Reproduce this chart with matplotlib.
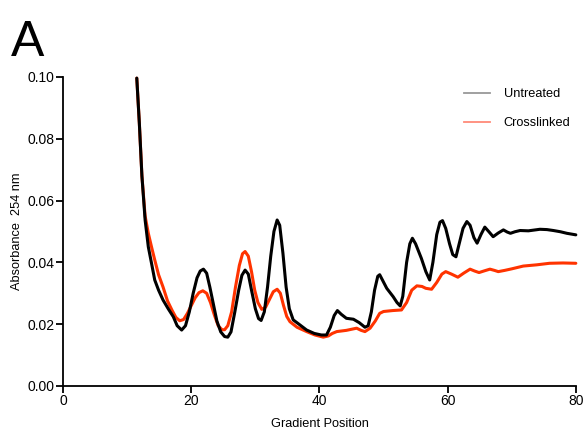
import numpy as np
import matplotlib.pyplot as plt

plt.rcParams['font.family'] = ['Liberation Sans', 'DejaVu Sans']

# values (gradient position, absorbance 254 nm)
untreated_x = [11.5, 11.9, 12.3, 12.8, 13.3, 13.8, 14.3, 14.9, 15.6, 16.4, 17.2, 17.8, 18.5, 19.1,
               19.7, 20.3, 20.9, 21.4, 21.9, 22.4, 22.9, 23.4, 24.0, 24.6, 25.2, 25.7, 26.2, 26.8,
               27.4, 27.9, 28.4, 28.9, 29.4, 30.0, 30.5, 30.9, 31.4, 31.9, 32.4, 32.9, 33.4, 33.8,
               34.3, 34.8, 35.3, 35.9, 36.8, 38.0, 39.2, 40.3, 41.1, 41.7, 42.3, 42.8, 43.4, 44.2,
               45.3, 46.2, 47.1, 47.6, 48.1, 48.6, 49.1, 49.4, 49.9, 50.5, 51.5, 52.1, 52.6, 53.0,
               53.6, 54.1, 54.5, 55.0, 55.9, 56.6, 57.2, 57.7, 58.3, 58.8, 59.2, 59.7, 60.3, 60.8,
               61.3, 61.8, 62.4, 63.0, 63.5, 64.1, 64.6, 65.2, 65.8, 66.4, 67.1, 67.9, 68.7, 69.3,
               69.8, 70.5, 71.3, 72.6, 74.4, 75.5, 76.5, 77.6, 78.6, 80.0]
untreated_y = [0.0996, 0.085, 0.068, 0.0537, 0.045, 0.0397, 0.0343, 0.031, 0.0278, 0.025, 0.0224,
               0.0195, 0.0181, 0.0195, 0.024, 0.030, 0.035, 0.0372, 0.0378, 0.0365, 0.032, 0.027,
               0.021, 0.0175, 0.016, 0.0158, 0.0175, 0.024, 0.031, 0.0358, 0.0375, 0.0362, 0.031,
               0.025, 0.0218, 0.0212, 0.024, 0.032, 0.042, 0.050, 0.0537, 0.052, 0.043, 0.032,
               0.025, 0.0214, 0.020, 0.0181, 0.017, 0.0165, 0.0165, 0.019, 0.0228, 0.0244, 0.0232,
               0.0219, 0.0216, 0.0205, 0.019, 0.0195, 0.024, 0.031, 0.0355, 0.036, 0.034, 0.0316,
               0.0289, 0.027, 0.0259, 0.029, 0.040, 0.046, 0.0478, 0.046, 0.0413, 0.037, 0.0343,
               0.040, 0.049, 0.053, 0.0535, 0.051, 0.046, 0.0425, 0.0418, 0.046, 0.051, 0.0532,
               0.052, 0.048, 0.0462, 0.049, 0.0514, 0.050, 0.0483, 0.0495, 0.0505, 0.0498, 0.0494,
               0.0499, 0.0503, 0.0502, 0.0507, 0.0506, 0.0503, 0.0499, 0.0494, 0.0489]

crosslinked_x = [11.5, 11.9, 12.3, 12.8, 13.3, 13.8, 14.3, 14.9, 15.6, 16.3, 17.0, 17.6, 18.2, 18.8,
                 19.4, 20.0, 20.6, 21.2, 21.8, 22.4, 23.0, 23.6, 24.2, 24.8, 25.2, 25.7, 26.3, 26.9,
                 27.5, 28.0, 28.4, 28.9, 29.4, 29.9, 30.4, 31.0, 31.6, 32.2, 32.8, 33.4, 33.9, 34.4,
                 34.9, 35.4, 36.5, 38.0, 39.3, 40.6, 41.4, 42.0, 42.7, 44.2, 45.8, 46.5, 47.1, 47.9,
                 48.7, 49.4, 50.0, 51.4, 52.8, 53.6, 54.4, 55.2, 56.0, 56.6, 57.5, 58.3, 59.1, 59.7,
                 60.6, 61.6, 62.5, 63.5, 64.2, 64.9, 65.8, 66.6, 67.3, 67.9, 68.9, 70.0, 71.8, 73.9,
                 75.9, 78.0, 80.0]
crosslinked_y = [0.0996, 0.085, 0.068, 0.055, 0.0494, 0.045, 0.0408, 0.036, 0.032, 0.0275, 0.0245,
                 0.0222, 0.0211, 0.0215, 0.0235, 0.026, 0.0285, 0.0302, 0.0308, 0.030, 0.027, 0.023,
                 0.0195, 0.0182, 0.0182, 0.0195, 0.024, 0.032, 0.039, 0.0428, 0.0435, 0.042, 0.037,
                 0.031, 0.027, 0.0248, 0.0255, 0.028, 0.0305, 0.0313, 0.030, 0.026, 0.0225, 0.0208,
                 0.019, 0.0176, 0.0165, 0.0158, 0.0162, 0.017, 0.0176, 0.018, 0.0187, 0.018, 0.0176,
                 0.0187, 0.021, 0.0235, 0.0241, 0.0244, 0.0246, 0.027, 0.031, 0.0324, 0.0322, 0.0316,
                 0.0313, 0.0335, 0.0362, 0.037, 0.0362, 0.0352, 0.0365, 0.0378, 0.0372, 0.0367,
                 0.0373, 0.0378, 0.0374, 0.037, 0.0374, 0.0379, 0.0388, 0.0392, 0.0397, 0.0398, 0.0397]

fig = plt.figure(figsize=(5.84, 4.32), dpi=100)
ax = fig.add_axes([0.108, 0.1065, 0.878, 0.7155])

ax.plot(crosslinked_x, crosslinked_y, color='#ff3300', lw=2.2, solid_joinstyle='round',
        solid_capstyle='round', clip_on=False)
ax.plot(untreated_x, untreated_y, color='black', lw=2.2, solid_joinstyle='round',
        solid_capstyle='round', clip_on=False)

ax.set_xlim(0, 80)
ax.set_ylim(0, 0.10)
ax.set_xticks([0, 20, 40, 60, 80])
ax.set_yticks(np.arange(0, 0.101, 0.02))
ax.set_yticklabels(['%.2f' % v for v in np.arange(0, 0.101, 0.02)])
ax.spines['top'].set_visible(False)
ax.spines['right'].set_visible(False)
ax.spines['left'].set_linewidth(1.3)
ax.spines['bottom'].set_linewidth(1.3)
ax.tick_params(direction='out', length=5, width=1.3, labelsize=10, pad=1)

ax.set_xlabel('Gradient Position', fontsize=9.2, labelpad=7)
ax.set_ylabel('Absorbance  254 nm', fontsize=9.2, labelpad=3)

# legend with thin, light handles like the reference
h1, = ax.plot([], [], color='#999999', lw=1.3, label='Untreated')
h2, = ax.plot([], [], color='#ff8a78', lw=1.3, label='Crosslinked')
ax.legend(handles=[h1, h2], loc='upper right', bbox_to_anchor=(1.012, 1.0), frameon=False,
          fontsize=9.2, handlelength=2.0, handletextpad=1.1, labelspacing=1.3)

fig.text(0.018, 0.870, 'A', fontsize=36)

fig.savefig('out.png', dpi=100)
